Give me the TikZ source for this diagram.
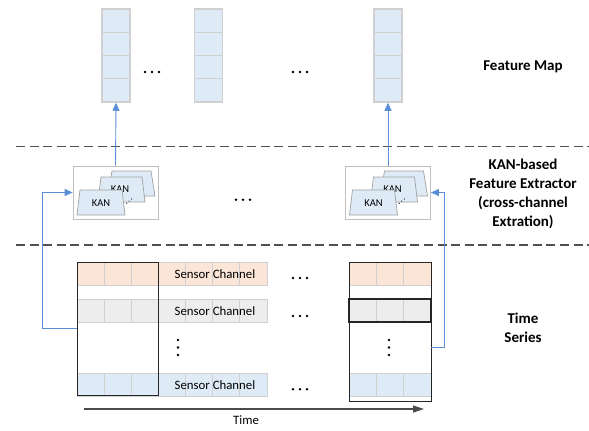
\documentclass[tikz,border=0pt]{standalone}
\usepackage{fontspec}
\setmainfont{Carlito}
\usetikzlibrary{arrows.meta,calc}
\definecolor{lblue}{HTML}{DEEBF7}
\definecolor{lorange}{HTML}{FBE5D6}
\definecolor{lgray}{HTML}{EDEDED}
\definecolor{cellline}{HTML}{D0D0D0}
\definecolor{fmline}{HTML}{D0D0D0}
\definecolor{arrowblue}{HTML}{4472C4}
\definecolor{linkblue}{HTML}{5B8FD5}
\definecolor{dashgray}{HTML}{505050}
\definecolor{trapline}{HTML}{A0A0A0}
\tikzset{
  fmcol/.style={draw=fmline, fill=lblue, line width=1.5pt, minimum width=28pt, minimum height=93pt, inner sep=0pt},
  fmsep/.style={draw=fmline, line width=1.1pt},
  kanbox/.style={draw=black!25, fill=white, line width=0.8pt, minimum width=85pt, minimum height=53pt, inner sep=0pt},
  trap/.style={draw=trapline, fill=lblue, line width=0.7pt},
  tcell/.style={draw=cellline, line width=0.9pt},
  blk/.style={draw=black!85, line width=1pt},
  sepline/.style={draw=dashgray, line width=1.4pt, dash pattern=on 9pt off 4.6pt},
  link/.style={draw=linkblue, line width=0.9pt, -{Triangle[length=8pt,width=7pt]}},
  lbl/.style={font=\fontsize{15}{19}\selectfont\bfseries, align=center, inner sep=0pt},
  chan/.style={font=\fontsize{12.8}{14}\selectfont, inner sep=0pt},
  kanlbl/.style={font=\fontsize{10.5}{12}\selectfont, inner sep=0pt}
}
\newcommand{\hdots}[2]{\foreach \dx in {0,7,14} \fill (#1+\dx,#2) circle (1.35pt);}
\newcommand{\vdotsat}[2]{\foreach \dy in {0,7.5,15} \fill (#1,#2+\dy) circle (1.35pt);}
\newcommand{\kanstack}[3]{%
  \node[kanbox] (#3) at (#1,#2) {};
  \draw[trap] ($(#1,#2)+(-3.5,-21.5)$) -- ($(#1,#2)+(35.5,-21.5)$) -- ($(#1,#2)+(39.5,3.5)$) -- ($(#1,#2)+(-7.5,3.5)$) -- cycle;
  \draw[trap] ($(#1,#2)+(-14.5,-15.5)$) -- ($(#1,#2)+(26.5,-15.5)$) -- ($(#1,#2)+(29.5,9.5)$) -- ($(#1,#2)+(-17.5,9.5)$) -- cycle;
  \node[kanlbl] (#3m) at ($(#1,#2)+(4.5,-3.5)$) {KAN};
  \foreach \ox/\oy in {11.2/10.8,13.6/8.6,16.2/6.5} \fill ($(#1,#2)+(\ox,\oy)$) circle (0.6pt);
  \draw[trap] ($(#1,#2)+(-35.5,-2.5)$) -- ($(#1,#2)+(6.5,-2.5)$) -- ($(#1,#2)+(9.5,22.5)$) -- ($(#1,#2)+(-38.5,22.5)$) -- cycle;
  \node[kanlbl] (#3f) at ($(#1,#2)+(-14.5,10.5)$) {KAN};
}
\begin{document}
\begin{tikzpicture}[x=1pt,y=-1pt]
\useasboundingbox (0,0) rectangle (589,431);

% ---------- Feature map ----------
\foreach \c/\x in {1/116,2/208.5,3/388}{
  \node[fmcol] (fm\c) at (\x,55.5) {};
  \foreach \i in {1,2,3} \draw[fmsep] (\x-14,9+23.25*\i) -- (\x+14,9+23.25*\i);
}
\hdots{145}{72}
\hdots{293}{72}
\node[lbl] (lfm) at (523,67) {Feature Map};

% ---------- separators ----------
\coordinate (d1a) at (16,146.7); \coordinate (d1b) at (589,146.7);
\coordinate (d2a) at (16,245); \coordinate (d2b) at (589,245);
\draw[sepline] (d1a) -- (d1b);
\draw[sepline] (d2a) -- (d2b);

% ---------- KAN extractors ----------
\kanstack{115.5}{192.5}{k1}
\kanstack{388}{192.5}{k2}
\hdots{236}{199.7}
\node[lbl] (lkan) at (523,194) {KAN-based\\Feature Extractor\\(cross-channel\\Extration)};

% ---------- time series ----------
\foreach \r/\y/\col in {1/262/lorange,2/299/lgray,3/373/lblue}{
  \foreach \i in {0,...,6} \draw[tcell, fill=\col] (77+27.14*\i,\y) rectangle (77+27.14*\i+27.14,\y+23);
  \node[chan] (sc\r) at (215,\y+12) {Sensor Channel};
  \foreach \i in {0,1,2} \draw[tcell, fill=\col] (349+27.33*\i,\y) rectangle (349+27.33*\i+27.33,\y+23);
}
\node[blk, minimum width=81pt, minimum height=133pt, inner sep=0pt] (tsL) at (117.5,328.5) {};
\node[blk, minimum width=82pt, minimum height=139pt, inner sep=0pt] (tsR) at (390,331.5) {};
\draw[blk, line width=1.3pt] (349,299) rectangle (431,322);
\vdotsat{178}{340}
\vdotsat{389}{340}
\hdots{293}{278}
\hdots{293}{316}
\hdots{293}{389.3}
\node[lbl] (lts) at (523,328) {Time\\Series};

% time axis
\coordinate (ta) at (84,409);
\coordinate (tb) at (424,409);
\draw[draw=black!70, line width=1.2pt, -{Triangle[length=11pt,width=7pt]}] (ta) -- (tb);
\node[chan] (ltime) at (246,420) {Time};

% ---------- connectors ----------
\draw[link] (k1.north) -- (fm1.south);
\draw[link] (k2.north) -- (fm3.south);
\coordinate (lout) at (42,328.5);
\draw[link] (tsL.west) -- (lout) |- (k1.west);
\coordinate (rsrc) at (431,347);
\coordinate (rout) at (444,347);
\draw[link] (rsrc) -- (rout) |- (k2.east);
\end{tikzpicture}
\end{document}
